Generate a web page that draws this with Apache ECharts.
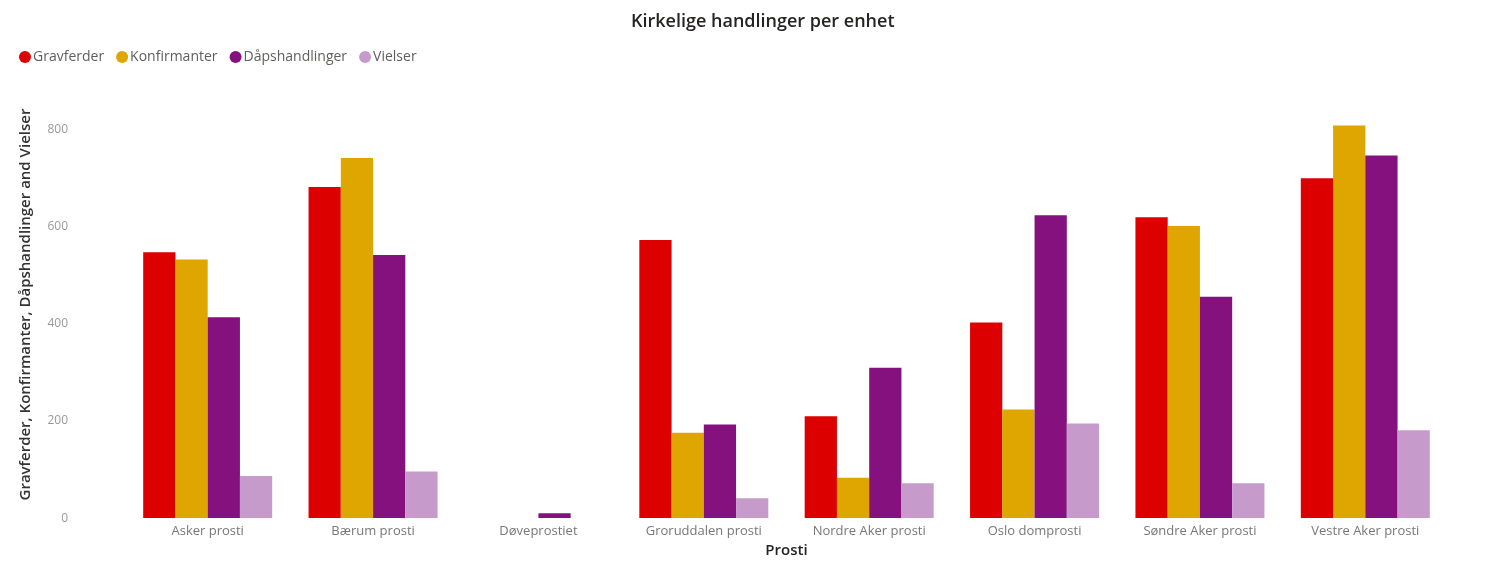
<!DOCTYPE html>
<html><head><meta charset="utf-8">
<script src="https://cdn.jsdelivr.net/npm/echarts@6/dist/echarts.min.js"></script>
<style>html,body{margin:0;padding:0;background:#fff;}#c{width:1493px;height:563px;}</style>
</head><body><div id="c"></div>
<script>
const categories = ['Asker prosti','Bærum prosti','Døveprostiet','Groruddalen prosti','Nordre Aker prosti','Oslo domprosti','Søndre Aker prosti','Vestre Aker prosti'];
const gravferder = [548, 682, 0, 573, 210, 403, 620, 700];
const konfirmanter = [533, 742, 0, 176, 83, 224, 602, 809];
const dapshandlinger = [414, 542, 10, 193, 310, 624, 456, 747];
const vielser = [87, 96, 0, 41, 72, 195, 72, 181];
const yTicks = [0, 200, 400, 600, 800];

const font = '"Open Sans", "DejaVu Sans", sans-serif';
const chart = echarts.init(document.getElementById('c'));
function s(name, data, color){ return {name, type:'bar', data, itemStyle:{color}, barGap:'0%', barCategoryGap:'22%'}; }
chart.setOption({
  animation:false,
  title:{text:'Kirkelige handlinger per enhet', left:626, top:8, textStyle:{fontFamily:font, fontSize:18, fontWeight:600, color:'#252423'}},
  legend:{left:14, top:45, icon:'circle', itemWidth:12, itemHeight:12, itemGap:12, textStyle:{fontFamily:font, fontSize:14, color:'#605E5C', padding:[0,0,0,-3]},
    data:['Gravferder','Konfirmanter','Dåpshandlinger','Vielser']},
  grid:{left:125, right:45, top:91, bottom:37, containLabel:false},
  xAxis:{type:'category', data:categories, name:'Prosti', nameLocation:'middle', nameGap:21,
    nameTextStyle:{fontFamily:font, fontSize:15, fontWeight:600, color:'#252423'},
    axisLine:{show:false}, axisTick:{show:false},
    axisLabel:{fontFamily:font, fontSize:13, color:'#777', margin:7, interval:0}},
  yAxis:{type:'value', min:0, max:880, interval:200,
    name:'Gravferder, Konfirmanter, Dåpshandlinger and Vielser', nameLocation:'middle', nameGap:92, nameRotate:90,
    nameTextStyle:{fontFamily:font, fontSize:15, fontWeight:600, color:'#333'},
    axisLine:{show:false}, axisTick:{show:false}, splitLine:{show:false},
    axisLabel:{fontFamily:font, fontSize:12, color:'#999', margin:57,
      formatter:v=> yTicks.includes(v) ? String(v) : ''}},
  series:[s('Gravferder',gravferder,'#DD0000'), s('Konfirmanter',konfirmanter,'#DFA500'), s('Dåpshandlinger',dapshandlinger,'#84117E'), s('Vielser',vielser,'#C69BCB')]
});
</script></body></html>
